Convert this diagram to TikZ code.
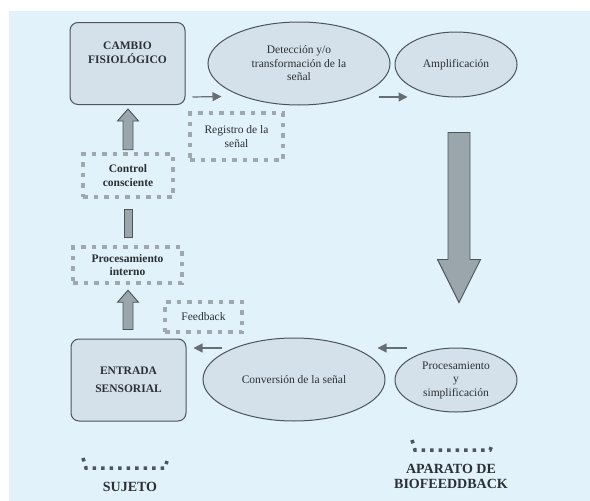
\documentclass[tikz,border=0pt]{standalone}
\usepackage{fontspec}
\setmainfont{Liberation Serif}
\usepackage{tikz}
\usetikzlibrary{arrows.meta,shapes.geometric,calc}

\definecolor{fondo}{HTML}{E1F2FB}
\definecolor{relleno}{HTML}{D4E1EB}
\definecolor{borde}{HTML}{4B555B}
\definecolor{puntos}{HTML}{9EA8AE}
\definecolor{flecha}{HTML}{9AA5AC}
\definecolor{texto}{HTML}{2A3034}

% flecha gruesa vertical: semiancho del cuerpo, semiancho de la punta, largo de la punta, origen, destino
\newcommand{\flechagruesa}[5]{%
  \draw[fatarrow] let \p1=(#4), \p2=(#5), \n1={ifthenelse(\y2>\y1,1,-1)} in
    (\x1-#1,\y1) -- (\x1-#1,\y2-\n1*#3) -- (\x1-#2,\y2-\n1*#3) -- (\x1,\y2)
    -- (\x1+#2,\y2-\n1*#3) -- (\x1+#1,\y2-\n1*#3) -- (\x1+#1,\y1) -- cycle;}

\begin{document}
\begin{tikzpicture}[x=1pt,y=-1pt,
  caja/.style={draw=borde, fill=relleno, rounded corners=8pt, line width=1pt,
    minimum width=115pt, minimum height=82pt, align=center, text=texto,
    font=\bfseries\fontsize{11.5}{13.5}\selectfont},
  ovalo/.style={ellipse, draw=borde, fill=relleno, line width=1pt, inner sep=0pt,
    align=center, text=texto, font=\fontsize{11.5}{13.5}\selectfont},
  punteado/.style={draw=puntos, line width=4.5pt, dash pattern=on 4.5pt off 6pt,
    align=center, text=texto, font=\fontsize{11.5}{13.5}\selectfont},
  etiqueta/.style={align=center, text=texto, font=\bfseries\fontsize{14}{15}\selectfont},
  llave/.style={draw=borde, line width=3.5pt, dash pattern=on 3.5pt off 5pt},
  flechita/.style={draw=borde!85, line width=1.2pt, -{Triangle[length=9pt,width=9pt]}},
  barra/.style={fill=flecha, draw=borde, line width=0.9pt},
  fatarrow/.style={fill=flecha, draw=borde, line width=0.9pt}]

\useasboundingbox (0,0) rectangle (590,501);
\fill[fondo] (9,11) rectangle (590,501);

% fila de arriba
\node[caja] (cambio) at (127.5,63.5) {CAMBIO\\FISIOLÓGICO\\[8pt]\mbox{}};
\node[ovalo, minimum width=182pt, minimum height=83pt] (detect) at (299,63.5)
  {Detección y/o\\transformación de la\\señal};
\node[ovalo, minimum width=122pt, minimum height=65pt] (amp) at (456,64.5) {Amplificación};

% cajas punteadas
\node[punteado, minimum width=93pt, minimum height=47pt] (registro) at (236.5,136.5)
  {Registro de la\\señal};
\node[punteado, minimum width=90pt, minimum height=43pt, font=\bfseries\fontsize{11.5}{13.5}\selectfont]
  (control) at (128,175.5) {Control\\consciente};
\node[punteado, minimum width=109pt, minimum height=36pt, font=\bfseries\fontsize{11.5}{13.5}\selectfont]
  (procint) at (127.5,265) {Procesamiento\\interno};
\node[punteado, minimum width=77pt, minimum height=30pt] (feedback) at (203.5,317) {Feedback};

% fila de abajo
\node[caja] (entrada) at (128.5,380) {ENTRADA\\[4pt]SENSORIAL};
\node[ovalo, minimum width=182pt, minimum height=83pt] (conv) at (294,379.5)
  {Conversión de la señal};
\node[ovalo, minimum width=122pt, minimum height=64pt] (procsimp) at (456,380)
  {Procesamiento\\y\\simplificación};

% rotulos
\node[etiqueta] (sujeto) at (130,487) {SUJETO};
\node[etiqueta] (aparato) at (451,476) {APARATO DE\\BIOFEEDDBACK};
\draw[llave] (83,458) -- (86,468) -- (165,468) -- (167,461);
\draw[llave] (412,440) -- (415,450) -- (490,450) -- (493,443);

% flechas finas
\draw[flechita] ($(cambio.south east)+(7,-8)$) -- ($(detect.west)+(14,33)$);
\draw[flechita] ($(detect.east)+(-12,33.5)$) -- ($(amp.west)+(13,32.5)$);
\draw[flechita] ($(procsimp.west)+(12,-32)$) -- ($(conv.east)+(-8,-31.5)$);
\draw[flechita] ($(conv.west)+(19,-31.5)$) -- ($(entrada.east)+(7,-32)$);

% flechas gruesas
\flechagruesa{11pt}{21.5pt}{43pt}{$(amp.south)+(3,35)$}{$(procsimp.north)+(3,-45)$}
\flechagruesa{5pt}{10.5pt}{12pt}{$(entrada.north)+(-0.5,-9)$}{$(procint.south)+(0,5)$}
\flechagruesa{5pt}{10.5pt}{12pt}{$(control.north)+(0,-2)$}{$(cambio.south)+(0,4)$}
\filldraw[barra] ($(procint.north)+(-3.5,-7)$) rectangle ($(control.south)+(4,10)$);
\end{tikzpicture}
\end{document}
